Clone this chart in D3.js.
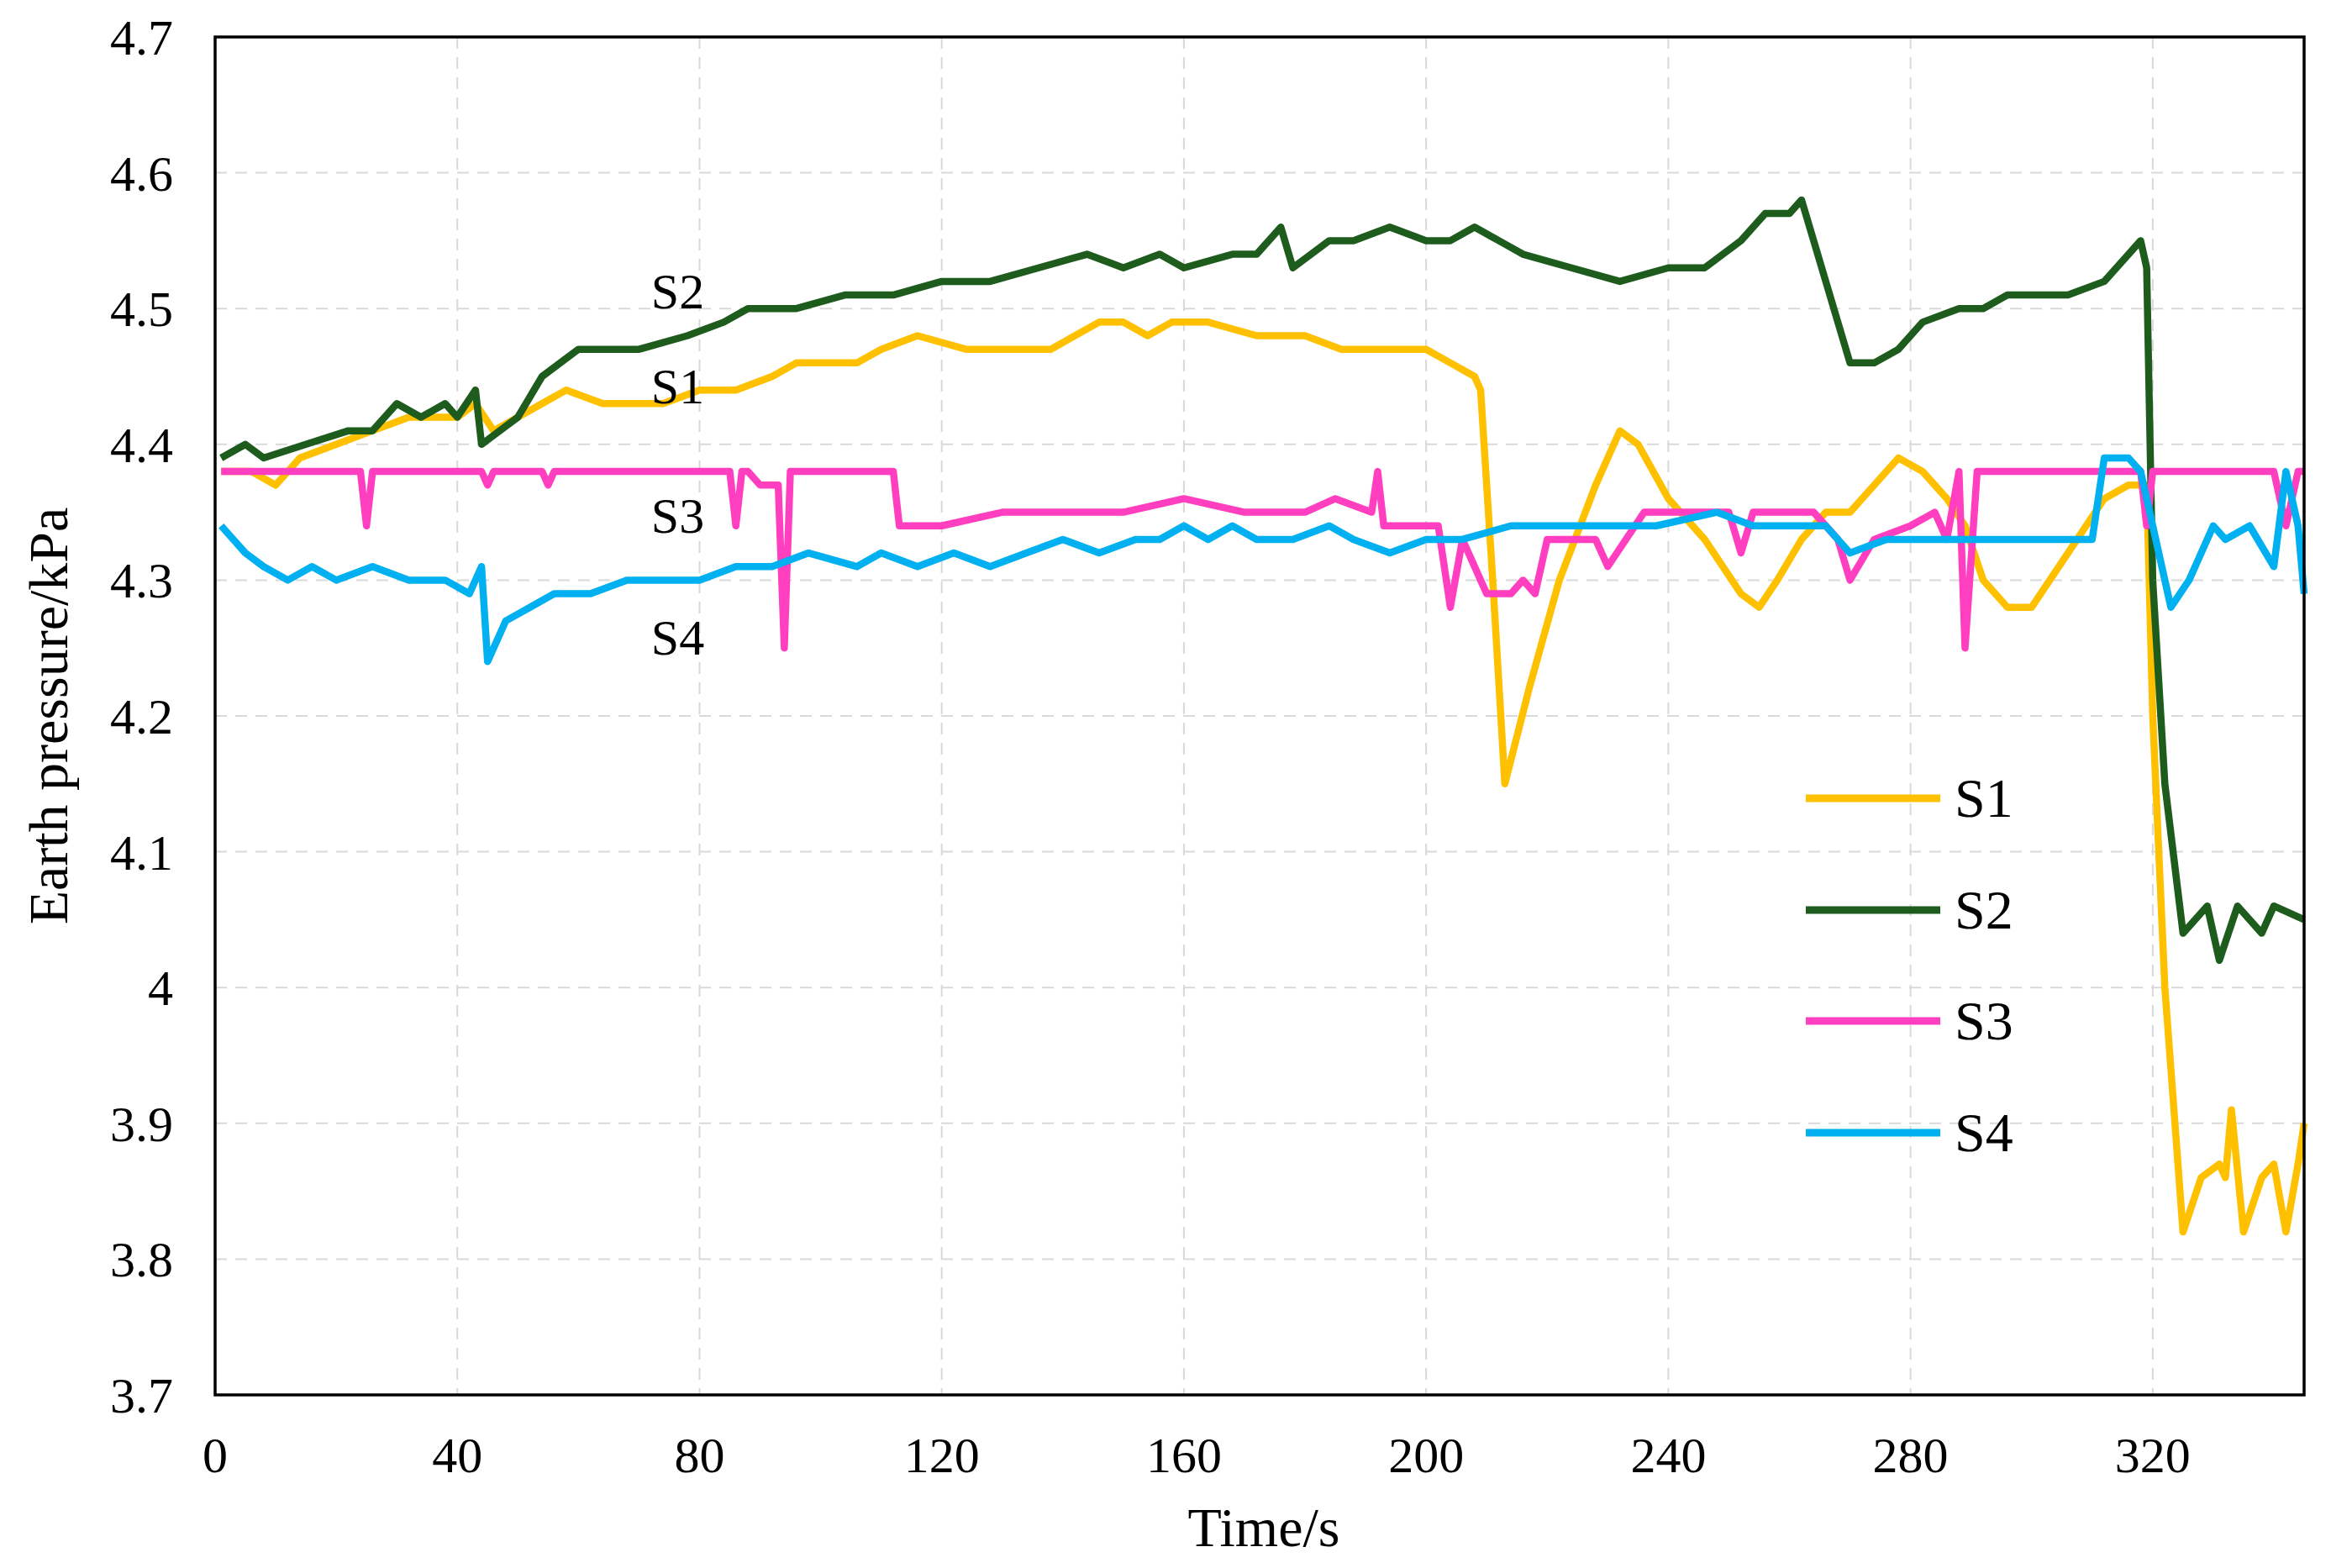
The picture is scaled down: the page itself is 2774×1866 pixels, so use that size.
<html>
<head>
<script src="https://cdnjs.cloudflare.com/ajax/libs/d3/7.8.5/d3.min.js"></script>
<style>body{margin:0;background:#fff}</style>
</head>
<body>
<svg width="2774" height="1866"></svg>
<script>
// values
var s1T = [1,6,10,14,20,26,32,40,43,46,50,54,58,64,72,74,80,86,92,96,106,110,116,124,130,138,146,150,154,158,164,172,180,186,192,200,204,208,209,211,213,217,222,228,232,235,240,246,252,255,258,262,266,270,274,278,282,286,289,292,296,300,306,312,316,319,320,322,325,328,331,332,333,335,338,340,342,344,345];
var s1V = [4.38,4.38,4.37,4.39,4.40,4.41,4.42,4.42,4.43,4.41,4.42,4.43,4.44,4.43,4.43,4.43,4.44,4.44,4.45,4.46,4.46,4.47,4.48,4.47,4.47,4.47,4.49,4.49,4.48,4.49,4.49,4.48,4.48,4.47,4.47,4.47,4.46,4.45,4.44,4.30,4.15,4.22,4.30,4.37,4.41,4.40,4.36,4.33,4.29,4.28,4.30,4.33,4.35,4.35,4.37,4.39,4.38,4.36,4.34,4.30,4.28,4.28,4.32,4.36,4.37,4.37,4.20,4.00,3.82,3.86,3.87,3.86,3.91,3.82,3.86,3.87,3.82,3.87,3.90];
var s2T = [1,5,8,15,22,26,30,34,38,40,43,44,50,54,60,70,78,84,88,96,104,112,120,128,136,144,150,156,160,168,172,176,178,184,188,194,200,204,208,212,216,224,232,240,246,252,256,260,262,264,266,270,274,278,282,288,292,296,302,306,312,316,318,319,320,322,325,329,331,334,338,340,345];
var s2V = [4.39,4.40,4.39,4.40,4.41,4.41,4.43,4.42,4.43,4.42,4.44,4.40,4.42,4.45,4.47,4.47,4.48,4.49,4.50,4.50,4.51,4.51,4.52,4.52,4.53,4.54,4.53,4.54,4.53,4.54,4.54,4.56,4.53,4.55,4.55,4.56,4.55,4.55,4.56,4.55,4.54,4.53,4.52,4.53,4.53,4.55,4.57,4.57,4.58,4.55,4.52,4.46,4.46,4.47,4.49,4.50,4.50,4.51,4.51,4.51,4.52,4.54,4.55,4.53,4.30,4.15,4.04,4.06,4.02,4.06,4.04,4.06,4.05];
var s3T = [1,24,25,26,44,45,46,54,55,56,85,86,87,88,90,93,94,95,96,112,113,120,130,140,150,160,170,180,185,191,192,193,200,202,204,206,210,214,216,218,220,228,230,236,244,250,252,254,264,268,270,274,280,284,286,288,289,291,318,319,320,340,342,344,345];
var s3V = [4.38,4.38,4.34,4.38,4.38,4.37,4.38,4.38,4.37,4.38,4.38,4.34,4.38,4.38,4.37,4.37,4.25,4.38,4.38,4.38,4.34,4.34,4.35,4.35,4.35,4.36,4.35,4.35,4.36,4.35,4.38,4.34,4.34,4.34,4.28,4.33,4.29,4.29,4.30,4.29,4.33,4.33,4.31,4.35,4.35,4.35,4.32,4.35,4.35,4.33,4.30,4.33,4.34,4.35,4.33,4.38,4.25,4.38,4.38,4.34,4.38,4.38,4.34,4.38,4.38];
var s4T = [1,5,8,12,16,20,26,32,38,42,44,45,48,52,56,62,68,74,80,86,92,98,106,110,116,122,128,134,140,146,152,156,160,164,168,172,178,184,188,194,200,206,214,222,230,238,248,254,262,266,270,276,282,288,294,300,306,310,312,316,318,320,323,326,330,332,336,340,342,344,345];
var s4V = [4.34,4.32,4.31,4.30,4.31,4.30,4.31,4.30,4.30,4.29,4.31,4.24,4.27,4.28,4.29,4.29,4.30,4.30,4.30,4.31,4.31,4.32,4.31,4.32,4.31,4.32,4.31,4.32,4.33,4.32,4.33,4.33,4.34,4.33,4.34,4.33,4.33,4.34,4.33,4.32,4.33,4.33,4.34,4.34,4.34,4.34,4.35,4.34,4.34,4.34,4.32,4.33,4.33,4.33,4.33,4.33,4.33,4.33,4.39,4.39,4.38,4.34,4.28,4.30,4.34,4.33,4.34,4.31,4.38,4.34,4.29];
var seriesNames = ["S1","S2","S3","S4"];
var colors = ["#ffc000","#1e5c1e","#ff3fc0","#00b0f0"];
var xTicks = [0,40,80,120,160,200,240,280,320];
var yTicks = [3.7,3.8,3.9,4.0,4.1,4.2,4.3,4.4,4.5,4.6,4.7];

var series = [[s1T,s1V],[s2T,s2V],[s3T,s3V],[s4T,s4V]];
var svg = d3.select("svg");
var L = 256, R = 2742, T = 44, B = 1660;
var x = d3.scaleLinear().domain([0,345]).range([L,R]);
var y = d3.scaleLinear().domain([3.7,4.7]).range([B,T]);
var font = "Liberation Serif, Times New Roman, serif";

// grid
svg.append("g").selectAll("line.v").data(xTicks.slice(1)).enter().append("line")
  .attr("x1",d=>x(d)).attr("x2",d=>x(d)).attr("y1",T).attr("y2",B)
  .attr("stroke","#d9d9d9").attr("stroke-width",2).attr("stroke-dasharray","14,10");
svg.append("g").selectAll("line.h").data(yTicks.slice(1,-1)).enter().append("line")
  .attr("x1",L).attr("x2",R).attr("y1",d=>y(d)).attr("y2",d=>y(d))
  .attr("stroke","#d9d9d9").attr("stroke-width",2).attr("stroke-dasharray","14,10");

// lines
var line = d3.line().x(d=>x(d[0])).y(d=>y(d[1]));
series.forEach(function(s,i){
  var pts = s[0].map((t,j)=>[t,s[1][j]]);
  svg.append("path").attr("d",line(pts)).attr("fill","none")
    .attr("stroke",colors[i]).attr("stroke-width",8.5).attr("stroke-linejoin","round");
});

// frame
svg.append("rect").attr("x",L).attr("y",T).attr("width",R-L).attr("height",B-T)
  .attr("fill","none").attr("stroke","#000").attr("stroke-width",3.5);

// tick labels
svg.append("g").selectAll("text").data(xTicks).enter().append("text")
  .attr("x",d=>x(d)).attr("y",B+92).attr("text-anchor","middle")
  .attr("font-family",font).attr("font-size",60).text(d=>d);
svg.append("g").selectAll("text").data(yTicks).enter().append("text")
  .attr("x",L-50).attr("y",d=>y(d)+21).attr("text-anchor","end")
  .attr("font-family",font).attr("font-size",60).text(d=>d===4?"4":d.toFixed(1));

// axis titles
svg.append("text").attr("x",(L+R)/2+5).attr("y",1840).attr("text-anchor","middle")
  .attr("font-family",font).attr("font-size",66).text("Time/s");
svg.append("text").attr("transform","translate(80,"+((T+B)/2)+") rotate(-90)")
  .attr("text-anchor","middle").attr("font-family",font).attr("font-size",66)
  .text("Earth pressure/kPa");

// annotations
var ann = [["S2",4.5],["S1",4.43],["S3",4.335],["S4",4.245]];
ann.forEach(function(a){
  svg.append("text").attr("x",x(72)).attr("y",y(a[1])).attr("font-family",font)
    .attr("font-size",60).text(a[0]);
});

// legend
var legY = [950,1083,1215,1348];
seriesNames.forEach(function(n,i){
  svg.append("line").attr("x1",2149).attr("x2",2309).attr("y1",legY[i]).attr("y2",legY[i])
    .attr("stroke",colors[i]).attr("stroke-width",9);
  svg.append("text").attr("x",2326).attr("y",legY[i]+22).attr("font-family",font)
    .attr("font-size",66).text(n);
});
</script>
</body>
</html>
